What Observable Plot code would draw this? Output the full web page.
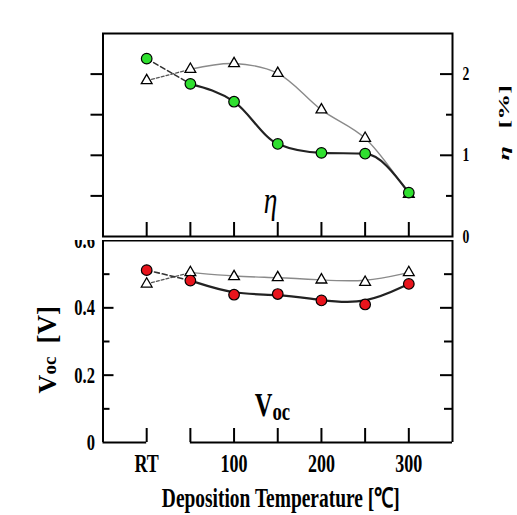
<!DOCTYPE html>
<html><head><meta charset="utf-8">
<script src="https://cdn.jsdelivr.net/npm/d3@7"></script>
<script src="https://cdn.jsdelivr.net/npm/@observablehq/plot@0.6"></script>
<style>
body{margin:0;background:#fff}
#wrap{position:relative;width:517px;height:515px;overflow:hidden;background:#fff}
#wrap svg{position:absolute;left:0}
</style></head><body><div id="wrap"></div>
<script>
// ---- data ----
const tempLabels = ["RT", "50", "100", "150", "200", "250", "300"];
const tempX = [0, 50, 100, 150, 200, 250, 300]; // RT drawn at 0 on the broken axis
const etaCircle = [2.19, 1.88, 1.66, 1.14, 1.03, 1.02, 0.54];
const etaTriangle = [1.92, 2.06, 2.13, 2.01, 1.56, 1.21, 0.52];
const vocCircle = [0.512, 0.481, 0.439, 0.441, 0.422, 0.410, 0.471];
const vocTriangle = [0.471, 0.505, 0.493, 0.490, 0.483, 0.476, 0.505];
const xAxisTicks = [0, 100, 200, 300];
const etaTickLabels = [0, 1, 2];
const etaMajor = [1, 2], etaMinor = [0.5, 1.5];
const vocTickLabels = [0, 0.2, 0.4, 0.6];
const vocMajor = [0.2, 0.4], vocMinor = [0.1, 0.3, 0.5];
const axisSegments = [{x1: -50, x2: 0}, {x1: 50, x2: 350}];
const xTitle = "Deposition Temperature [\u2103]";

const rows = tempX.map((x, i) => ({x, label: tempLabels[i], etaC: etaCircle[i], etaT: etaTriangle[i], vocC: vocCircle[i], vocT: vocTriangle[i]}));
const head = rows.slice(0, 2), tail = rows.slice(1);

// ---- layout ----
const W = 517, ML = 102.5, MR = 65, PW = W - ML - MR;
const font = "'Liberation Serif','Times New Roman',serif";
const baseStyle = {background: "white", overflow: "visible", fontFamily: font, fontWeight: "bold", color: "#000"};
const green = "#2fe02f", red = "#e8141c";

const etaPlot = Plot.plot({
  width: W, height: 240, marginTop: 33, marginBottom: 4, marginLeft: ML, marginRight: MR,
  style: baseStyle,
  x: {domain: [-50, 350], axis: null},
  y: {domain: [0, 2.5]},
  marks: [
    Plot.frame({stroke: "#000", strokeWidth: 2}),
    Plot.tickY([...etaMajor, ...etaMinor], {y: d => d, insetLeft: -12, insetRight: PW, stroke: "#000", strokeWidth: 2}),
    Plot.tickY(etaMajor, {y: d => d, insetLeft: PW - 12, stroke: "#000", strokeWidth: 2}),
    Plot.tickY(etaMinor, {y: d => d, insetLeft: PW - 6, stroke: "#000", strokeWidth: 2}),
    Plot.tickX(tempX, {x: d => d, insetTop: 203 - 14, stroke: "#000", strokeWidth: 2}),
    Plot.axisY(etaTickLabels, {anchor: "right", tickSize: 0, tickPadding: 10, fontSize: 19, label: null, tickFormat: d => String(d)}),
    Plot.line(head, {x: "x", y: "etaT", stroke: "#555", strokeWidth: 1.3, strokeDasharray: "3,2"}),
    Plot.line(head, {x: "x", y: "etaC", stroke: "#333", strokeWidth: 1.6, strokeDasharray: "5,3"}),
    Plot.line(tail, {x: "x", y: "etaT", curve: "catmull-rom", stroke: "#8a8a8a", strokeWidth: 1.4}),
    Plot.line(tail, {x: "x", y: "etaC", curve: "monotone-x", stroke: "#222", strokeWidth: 2.2}),
    Plot.dot(rows, {x: "x", y: "etaT", symbol: "triangle", r: 4, fill: "white", stroke: "#000", strokeWidth: 1.3}),
    Plot.dot(rows, {x: "x", y: "etaC", r: 5.3, fill: green, stroke: "#000", strokeWidth: 1.2}),
    Plot.text(["\u03b7"], {text: d => d, frameAnchor: "bottom-left", dx: 167.5, dy: -24, lineAnchor: "bottom", textAnchor: "middle", fontSize: 38, fontStyle: "italic", fontWeight: "normal"}),
    Plot.text(["\u03b7"], {text: d => d, frameAnchor: "right", rotate: -90, textAnchor: "start", lineAnchor: "bottom", dx: 56, dy: 25.5, fontSize: 26, fontStyle: "italic"}),
    Plot.text(["[%]"], {text: d => d, frameAnchor: "right", rotate: -90, textAnchor: "start", lineAnchor: "bottom", dx: 56, dy: -6.5, fontSize: 26})
  ]
});

const vocPlot = Plot.plot({
  width: W, height: 278, marginTop: 3, marginBottom: 73, marginLeft: ML, marginRight: MR,
  style: baseStyle,
  x: {domain: [-50, 350]},
  y: {domain: [0, 0.6]},
  marks: [
    Plot.ruleX([-50, 350], {stroke: "#000", strokeWidth: 2}),
    Plot.ruleY([0.6], {stroke: "#000", strokeWidth: 2}),
    Plot.ruleY(axisSegments, {y: 0, x1: "x1", x2: "x2", stroke: "#000", strokeWidth: 2}),
    Plot.tickY(vocMajor, {y: d => d, insetRight: PW - 11, stroke: "#000", strokeWidth: 2}),
    Plot.tickY(vocMinor, {y: d => d, insetRight: PW - 7, stroke: "#000", strokeWidth: 2}),
    Plot.tickY(vocMajor, {y: d => d, insetLeft: PW - 12, stroke: "#000", strokeWidth: 2}),
    Plot.tickY(vocMinor, {y: d => d, insetLeft: PW - 8, stroke: "#000", strokeWidth: 2}),
    Plot.tickX(tempX, {x: d => d, insetTop: 202 - 14, stroke: "#000", strokeWidth: 2}),
    Plot.axisY(vocTickLabels, {anchor: "left", tickSize: 0, tickPadding: 8, fontSize: 23, label: null, tickFormat: d => d === 0 ? "0" : d.toFixed(1)}),
    Plot.axisX(xAxisTicks, {anchor: "bottom", tickSize: 0, tickPadding: 12, fontSize: 25, label: null, tickFormat: d => tempLabels[tempX.indexOf(d)]}),
    Plot.line(head, {x: "x", y: "vocT", stroke: "#555", strokeWidth: 1.3, strokeDasharray: "3,2"}),
    Plot.line(head, {x: "x", y: "vocC", stroke: "#333", strokeWidth: 1.6, strokeDasharray: "5,3"}),
    Plot.line(tail, {x: "x", y: "vocT", curve: "basis", stroke: "#8a8a8a", strokeWidth: 1.4}),
    Plot.line(tail, {x: "x", y: "vocC", curve: "basis", stroke: "#222", strokeWidth: 2.2}),
    Plot.dot(rows, {x: "x", y: "vocT", symbol: "triangle", r: 4, fill: "white", stroke: "#000", strokeWidth: 1.3}),
    Plot.dot(rows, {x: "x", y: "vocC", r: 5.3, fill: red, stroke: "#000", strokeWidth: 1.2}),
    Plot.text(["V"], {text: d => d, frameAnchor: "bottom-left", dx: 169.5, dy: -27, lineAnchor: "bottom", textAnchor: "end", fontSize: 34}),
    Plot.text(["oc"], {text: d => d, frameAnchor: "bottom-left", dx: 169.5, dy: -23, lineAnchor: "bottom", textAnchor: "start", fontSize: 26}),
    Plot.text(["V"], {text: d => d, frameAnchor: "left", rotate: -90, textAnchor: "start", lineAnchor: "bottom", dx: -47.5, dy: 52, fontSize: 26}),
    Plot.text(["oc"], {text: d => d, frameAnchor: "left", rotate: -90, textAnchor: "start", lineAnchor: "bottom", dx: -47.5, dy: 33, fontSize: 19}),
    Plot.text(["[V]"], {text: d => d, frameAnchor: "left", rotate: -90, textAnchor: "start", lineAnchor: "bottom", dx: -47.5, dy: 2, fontSize: 27}),
    Plot.text([xTitle], {text: d => d, frameAnchor: "bottom", dx: 3, dy: 64, lineAnchor: "bottom", textAnchor: "middle", fontSize: 27})
  ]
});

function squeeze(svg) {
  d3.select(svg).selectAll("text").each(function () {
    const t = this.getAttribute("transform") || "";
    if (t.includes("rotate")) {
      if (/[%\u03b7]/.test(this.textContent)) this.setAttribute("transform", t + " scale(1,0.6)");
    } else {
      this.setAttribute("transform", t + " scale(0.72,1)");
    }
  });
}
squeeze(etaPlot); squeeze(vocPlot);
const wrap = document.getElementById("wrap");
vocPlot.style.top = "237px";
etaPlot.style.top = "0px";
wrap.append(vocPlot);
wrap.append(etaPlot);
</script></body></html>
